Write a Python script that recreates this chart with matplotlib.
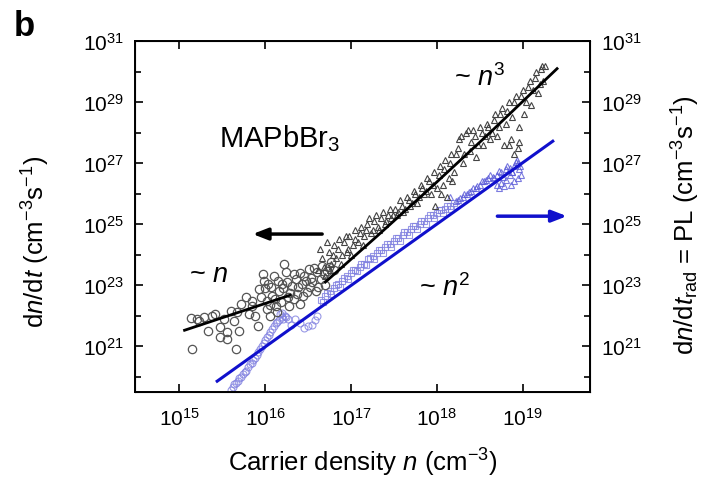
import numpy as np
import matplotlib
matplotlib.use("Agg")
import matplotlib.pyplot as plt
from matplotlib.ticker import FixedLocator, NullLocator, NullFormatter, FuncFormatter

plt.rcParams['font.family'] = ['Liberation Sans', 'DejaVu Sans']
plt.rcParams['mathtext.fontset'] = 'custom'
plt.rcParams['mathtext.rm'] = 'Liberation Sans'
plt.rcParams['mathtext.it'] = 'Liberation Sans:italic'
plt.rcParams['mathtext.bf'] = 'Liberation Sans:bold'

# log10 values
circ_x = [15.14, 15.15, 15.23, 15.29, 15.38, 15.47, 15.47, 15.52, 15.56, 15.56,
          15.60, 15.64, 15.66, 15.67, 15.72, 15.78, 15.81, 15.84, 15.91, 15.93,
          15.97, 15.99, 16.02, 16.02, 16.05, 16.07, 16.08, 16.10, 16.13, 16.14,
          16.16, 16.20, 16.22, 16.24, 16.26, 16.28, 16.31, 16.36, 16.37, 16.40,
          16.43, 16.45, 16.49, 16.51, 16.55, 16.59, 16.60, 16.65, 16.66, 16.72, 16.77,
          15.85, 15.88, 15.95, 16.00, 16.03, 16.06, 16.11, 16.15, 16.18, 16.21,
          16.25, 16.29, 16.33, 16.34, 16.38, 16.41, 16.44, 16.47, 16.52, 16.53,
          16.57, 16.62, 16.68, 16.70, 16.74, 16.80, 15.42, 15.33, 15.20, 15.70]
circ_y = [21.91, 20.90, 21.83, 21.95, 21.98, 21.62, 21.30, 21.89, 21.46, 21.23,
          22.15, 21.82, 20.90, 22.11, 22.38, 22.61, 22.05, 22.48, 21.66, 22.87,
          23.36, 23.13, 22.48, 22.21, 21.98, 22.93, 22.64, 23.30, 22.31, 22.11,
          22.80, 23.03, 23.69, 23.43, 22.61, 22.31, 22.97, 23.20, 22.70, 22.38,
          23.03, 23.30, 22.77, 23.52, 23.10, 22.80, 23.43, 23.20, 23.62, 23.46, 23.75,
          22.30, 22.00, 22.60, 22.90, 23.05, 22.35, 22.55, 23.15, 22.45, 22.90,
          23.10, 22.75, 23.35, 22.55, 22.95, 23.40, 22.65, 23.15, 22.95, 23.25,
          23.55, 22.95, 23.35, 23.00, 23.60, 23.50, 22.05, 21.50, 21.90, 21.50]

tri_x = [16.62, 16.66, 16.70, 16.74, 16.77, 16.80, 16.83, 16.86, 16.89, 16.92,
         16.95, 16.98, 17.02, 17.05, 17.08, 17.12, 17.15, 17.19, 17.23, 17.27,
         17.31, 17.35, 17.39, 17.43, 17.47, 17.51, 17.55, 17.59, 17.63, 17.67,
         17.71, 17.75, 17.79, 17.83, 17.87, 17.91, 17.95, 17.98, 18.02, 18.05,
         18.08, 18.12, 18.15, 18.18, 18.22, 18.26, 18.30, 18.34, 18.38, 18.42,
         18.46, 18.50, 18.54, 18.58, 18.62, 18.66, 18.70, 18.74, 18.78, 18.82,
         18.86, 18.90, 18.94, 18.98, 19.02, 19.06, 19.10, 19.14, 19.18, 19.21,
         19.24, 19.26,
         16.64, 16.68, 16.72, 16.76, 16.79, 16.85, 16.88, 16.94, 16.97, 17.00,
         17.04, 17.10, 17.14, 17.17, 17.21, 17.25, 17.29, 17.33, 17.37, 17.41,
         17.45, 17.49, 17.53, 17.57, 17.61, 17.65, 17.69, 17.73, 17.77, 17.81,
         17.85, 17.89, 17.93, 17.97, 18.00, 18.04, 18.07, 18.10, 18.14, 18.17,
         18.20, 18.24, 18.28, 18.32, 18.36, 18.40, 18.44, 18.48, 18.52, 18.56,
         18.60, 18.64, 18.68, 18.72, 18.76, 18.80, 18.84, 18.88, 18.92, 18.96,
         19.00, 19.04, 19.08, 19.12, 19.16, 19.20, 19.23, 18.96, 18.90, 18.84]
tri_y = [23.5, 23.9, 23.3, 24.1, 23.7, 24.3, 23.9, 24.5, 24.0, 24.4,
         24.1, 24.6, 24.3, 24.8, 24.4, 24.9, 24.6, 25.0, 24.7, 25.1,
         24.9, 25.2, 25.0, 25.3, 25.2, 25.5, 25.4, 25.6, 25.5, 25.8,
         25.7, 26.0, 25.9, 26.2, 26.1, 26.4, 26.3, 25.6, 26.6, 26.0,
         26.8, 25.9, 27.0, 26.4, 27.3, 27.8, 27.0, 28.0, 27.4, 28.1,
         27.2, 28.2, 27.6, 28.3, 27.8, 28.4, 27.9, 28.6, 27.6, 28.7,
         27.8, 29.0, 27.5, 29.2, 28.6, 29.5, 28.9, 29.8, 29.3, 30.1,
         29.7, 30.2,
         24.2, 23.6, 24.4, 23.5, 24.0, 24.2, 23.7, 24.6, 24.2, 24.0,
         24.5, 24.7, 24.3, 24.8, 25.2, 24.8, 25.3, 24.8, 25.4, 25.1,
         25.5, 25.3, 25.3, 25.8, 25.4, 25.9, 25.6, 26.1, 25.7, 26.3,
         26.0, 26.5, 26.0, 26.7, 26.2, 26.9, 26.3, 27.1, 26.5, 27.3,
         26.7, 27.5, 27.9, 27.3, 28.1, 27.7, 27.9, 27.6, 28.0, 27.9,
         28.2, 28.0, 28.6, 28.2, 28.8, 28.3, 29.0, 28.5, 29.2, 28.2,
         29.4, 29.0, 29.7, 29.4, 30.0, 29.6, 30.2, 27.7, 27.3, 27.6]

bcirc_x = [15.60, 15.64, 15.68, 15.72, 15.76, 15.80, 15.84, 15.88, 15.92, 15.96,
           16.00, 16.04, 16.08, 16.12, 16.16, 16.19, 16.21, 16.23, 16.26, 16.30,
           16.35, 16.45, 16.55, 16.60,
           15.62, 15.66, 15.70, 15.74, 15.78, 15.82, 15.86, 15.90, 15.94, 15.98,
           16.02, 16.06, 16.10, 16.14, 16.17, 16.20, 16.24, 16.40, 16.50, 16.58]
bcirc_y = [19.55, 19.75, 19.85, 20.0, 20.15, 20.3, 20.45, 20.6, 20.8, 21.0,
           21.2, 21.35, 21.55, 21.75, 21.85, 21.95, 21.9, 22.0, 21.9, 21.7,
           21.9, 21.6, 21.7, 22.0,
           19.65, 19.8, 19.95, 20.1, 20.2, 20.4, 20.55, 20.7, 20.9, 21.1,
           21.3, 21.45, 21.65, 21.8, 22.05, 22.1, 21.95, 21.75, 21.65, 21.85]
bsq_x = [16.65, 16.70, 16.75, 16.80, 16.85, 16.90, 16.95, 17.00, 17.05, 17.10,
         17.15, 17.20, 17.25, 17.30, 17.35, 17.40, 17.45, 17.50, 17.55, 17.60,
         17.65, 17.70, 17.75, 17.80, 17.85, 17.90, 17.95, 18.00, 18.05, 18.10,
         18.15, 18.20,
         16.67, 16.72, 16.77, 16.82, 16.87, 16.92, 16.97, 17.02, 17.07, 17.12,
         17.17, 17.22, 17.27, 17.32, 17.37, 17.42, 17.47, 17.52, 17.57, 17.62,
         17.67, 17.72, 17.77, 17.82, 17.87, 17.92, 17.97, 18.02, 18.07, 18.12, 18.17]
bsq_y = [22.5, 22.65, 22.8, 22.9, 23.05, 23.15, 23.3, 23.4, 23.5, 23.6,
         23.7, 23.85, 23.95, 24.05, 24.15, 24.25, 24.35, 24.45, 24.55, 24.65,
         24.75, 24.85, 24.95, 25.0, 25.1, 25.2, 25.3, 25.35, 25.45, 25.5,
         25.6, 25.7,
         22.45, 22.75, 22.7, 23.0, 22.95, 23.25, 23.2, 23.5, 23.45, 23.7,
         23.65, 23.9, 23.85, 24.15, 24.05, 24.35, 24.25, 24.55, 24.45, 24.75,
         24.65, 24.95, 24.85, 25.1, 25.0, 25.3, 25.2, 25.45, 25.35, 25.6, 25.5]
btri_x = [18.15, 18.25, 18.30, 18.35, 18.40, 18.45, 18.50, 18.55, 18.60, 18.65,
          18.70, 18.75, 18.80, 18.85, 18.90, 18.95, 18.98, 18.90, 18.85, 18.80,
          18.75, 18.70, 18.93, 18.88, 18.96,
          18.22, 18.27, 18.32, 18.37, 18.42, 18.47, 18.52, 18.57, 18.62, 18.67,
          18.72, 18.77, 18.82, 18.87, 18.92, 18.97, 18.94, 18.86, 18.78, 18.72]
btri_y = [25.9, 25.8, 25.9, 26.0, 26.1, 26.2, 26.3, 26.4, 26.5, 26.55,
          26.6, 26.7, 26.8, 26.85, 26.9, 27.0, 26.6, 26.4, 26.6, 26.45,
          26.35, 26.3, 27.1, 26.7, 26.8,
          25.75, 25.85, 26.0, 26.05, 26.2, 26.25, 26.4, 26.45, 26.6, 26.5,
          26.75, 26.55, 26.9, 26.7, 27.05, 26.9, 26.5, 26.3, 26.25, 26.2]

# fitted lines
fit1_x = [15.06, 16.29]
fit1_y = [21.52, 22.67]
fit3_x = [16.70, 17.30, 17.91, 18.60, 19.40]
fit3_y = [23.10, 24.60, 26.15, 27.95, 30.10]
fit2_x = [15.44, 19.35]
fit2_y = [19.85, 27.72]

p = lambda v: 10.0 ** np.array(v)

fig = plt.figure(figsize=(7.02, 4.85), dpi=100)
ax = fig.add_axes([0.192, 0.190, 0.648, 0.723])
ax.set_xscale('log'); ax.set_yscale('log')

ms_kw = dict(linestyle='none', markerfacecolor='none')
ax.plot(p(bcirc_x), p(bcirc_y), 'o', markersize=5, markeredgecolor='#8080e0', markeredgewidth=0.8, alpha=0.8, **ms_kw)
ax.plot(p(bsq_x), p(bsq_y), 's', markersize=4.5, markeredgecolor='#8080e0', markeredgewidth=0.8, alpha=0.8, **ms_kw)
ax.plot(p(btri_x), p(btri_y), '^', markersize=5, markeredgecolor='#5a5ad8', markeredgewidth=0.8, alpha=0.8, **ms_kw)
ax.plot(p(circ_x), p(circ_y), 'o', markersize=6, markeredgecolor='#555555', markeredgewidth=0.9, **ms_kw)
ax.plot(p(tri_x), p(tri_y), '^', markersize=5, markeredgecolor='#444444', markeredgewidth=0.8, **ms_kw)

ax.plot(p(fit1_x), p(fit1_y), '-', color='black', lw=2.0)
ax.plot(p(fit3_x), p(fit3_y), '-', color='black', lw=2.0)
ax.plot(p(fit2_x), p(fit2_y), '-', color='#1010cc', lw=2.2)

ax.set_xlim(10**14.48, 10**19.78)
ax.set_ylim(10**19.5, 1e31)

fmt = FuncFormatter(lambda v, pos: r'$10^{%d}$' % round(np.log10(v)))
ax.xaxis.set_major_locator(FixedLocator([1e15, 1e16, 1e17, 1e18, 1e19]))
ax.xaxis.set_minor_locator(NullLocator())
ax.xaxis.set_major_formatter(fmt)
ymaj = [10.0 ** e for e in range(21, 32, 2)]
ymin = [10.0 ** e for e in range(20, 31, 2)]
ax.yaxis.set_major_locator(FixedLocator(ymaj))
ax.yaxis.set_minor_locator(FixedLocator(ymin))
ax.yaxis.set_major_formatter(fmt)
ax.yaxis.set_minor_formatter(NullFormatter())
ax.tick_params(which='both', direction='in', top=True, labelsize=15, width=1.2)
ax.tick_params(which='major', length=6, pad=8)
ax.tick_params(axis='x', which='major', pad=11)
ax.tick_params(which='minor', length=4)
for s in ax.spines.values():
    s.set_linewidth(1.4)

ax2 = ax.twinx()
ax2.set_yscale('log')
ax2.set_ylim(ax.get_ylim())
ax2.yaxis.set_major_locator(FixedLocator(ymaj))
ax2.yaxis.set_minor_locator(FixedLocator(ymin))
ax2.yaxis.set_major_formatter(fmt)
ax2.yaxis.set_minor_formatter(NullFormatter())
ax2.tick_params(which='both', direction='in', labelsize=15, width=1.2)
ax2.tick_params(which='major', length=6, pad=8)
ax2.tick_params(which='minor', length=4)

ax.set_xlabel(r'Carrier density $n$ (cm$^{-3}$)', fontsize=18.5, labelpad=12)
ax.set_ylabel(r'd$n$/d$t$ (cm$^{-3}$s$^{-1}$)', fontsize=18.5)
ax.yaxis.set_label_coords(-0.182, 0.43)
ax2.set_ylabel(r'd$n$/d$t_{\mathrm{rad}}$ = PL (cm$^{-3}$s$^{-1}$)', fontsize=18.5)
ax2.yaxis.set_label_coords(1.176, 0.479)

ax.text(0.319, 0.726, r'MAPbBr$_3$', transform=ax.transAxes, fontsize=21, ha='center', va='center')
ax.text(0.758, 0.897, r'~ $n^3$', transform=ax.transAxes, fontsize=19.5, ha='center', va='center')
ax.text(0.163, 0.336, r'~ $n$', transform=ax.transAxes, fontsize=19.5, ha='center', va='center')
ax.text(0.681, 0.300, r'~ $n^2$', transform=ax.transAxes, fontsize=19.5, ha='center', va='center')

ax.annotate('', xy=(0.253, 0.450), xytext=(0.418, 0.450), xycoords='axes fraction',
            arrowprops=dict(arrowstyle='-|>,head_length=0.9,head_width=0.35', color='black', lw=2.5))
ax.annotate('', xy=(0.956, 0.501), xytext=(0.791, 0.501), xycoords='axes fraction',
            arrowprops=dict(arrowstyle='-|>,head_length=0.9,head_width=0.35', color='#1010cc', lw=2.5))

fig.text(0.020, 0.925, 'b', fontsize=25, fontweight='bold')

fig.savefig('out.png', dpi=100)
